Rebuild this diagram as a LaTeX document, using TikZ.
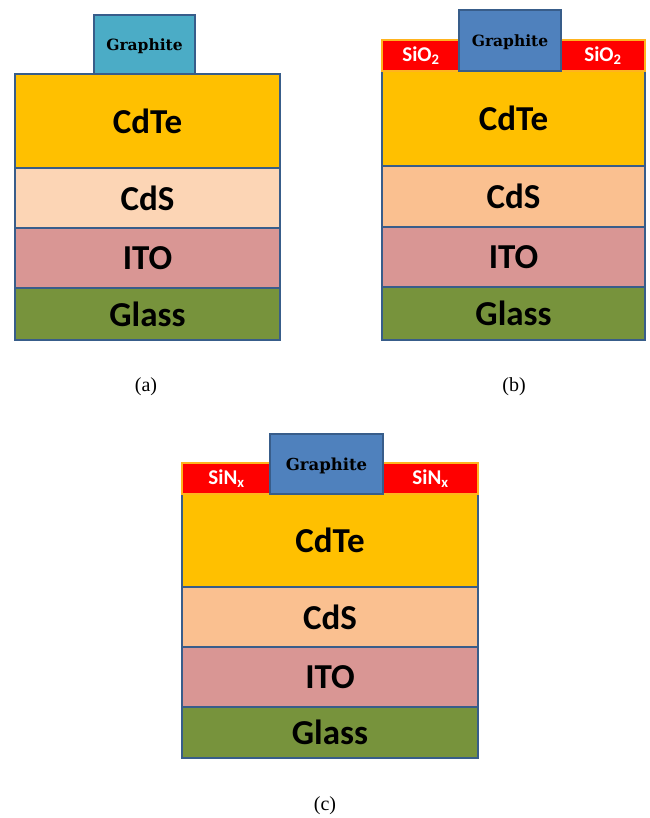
\documentclass[tikz,border=0pt]{standalone}
\usepackage{fontspec}
\setmainfont{Liberation Serif}
\newfontfamily\calfont{Carlito}
\newfontfamily\heavyfont{DejaVu Serif}
\usetikzlibrary{positioning}
\definecolor{edgeblue}{RGB}{56, 93, 138}
\definecolor{cdteyellow}{RGB}{255, 192, 0}
\definecolor{cdslight}{RGB}{252, 213, 181}
\definecolor{cdspeach}{RGB}{250, 192, 144}
\definecolor{itopink}{RGB}{217, 150, 148}
\definecolor{glassgreen}{RGB}{119, 147, 60}
\definecolor{graphteal}{RGB}{75, 172, 198}
\definecolor{graphblue}{RGB}{79, 129, 189}
\definecolor{oxred}{RGB}{255, 0, 0}
\definecolor{oxedge}{RGB}{255, 180, 30}

\begin{document}
\begin{tikzpicture}[x=1pt, y=-1pt,
  layer/.style={draw=edgeblue, line width=1.5pt, inner sep=0pt, outer sep=0pt,
                font=\calfont\bfseries\fontsize{35}{38}\selectfont},
  cdte/.style={layer, fill=cdteyellow, minimum height=94pt},
  cds/.style={layer, fill=cdspeach, minimum height=60pt},
  ito/.style={layer, fill=itopink, minimum height=60pt},
  glass/.style={layer, fill=glassgreen, minimum height=52pt},
  graph/.style={draw=edgeblue, line width=1.5pt, inner sep=0pt, outer sep=0pt,
                fill=graphblue, minimum height=60pt, text depth=0pt,
                font=\heavyfont\bfseries\fontsize{15.5}{17}\selectfont},
  oxide/.style={draw=oxedge, line width=1.5pt, fill=oxred, text=white,
                inner sep=0pt, outer sep=0pt, minimum height=31pt,
                font=\calfont\bfseries\fontsize{21}{23}\selectfont},
  caption/.style={font=\fontsize{20}{23}\selectfont}
]
  \useasboundingbox (0,0) rectangle (649,818);

  % (a) graphite on the bare stack
  \node[cdte, minimum width=265pt, anchor=north] (cdteA) at (147.5,74) {CdTe};
  \node[cds, fill=cdslight, minimum width=265pt, below=0pt of cdteA] (cdsA) {CdS};
  \node[ito, minimum width=265pt, below=0pt of cdsA] (itoA) {ITO};
  \node[glass, minimum width=265pt, below=0pt of itoA] (glassA) {Glass};
  \node[graph, fill=graphteal, minimum width=101pt, minimum height=59pt, anchor=south] (grA) at (144.5,74) {Graphite};
  \node[caption] (capA) at (146,387) {(a)};

  % (b) SiO2 beside the graphite
  \node[cdte, minimum width=263pt, minimum height=95pt, anchor=north] (cdteB) at (513.5,71) {CdTe};
  \node[cds, minimum width=263pt, minimum height=61pt, below=0pt of cdteB] (cdsB) {CdS};
  \node[ito, minimum width=263pt, below=0pt of cdsB] (itoB) {ITO};
  \node[glass, minimum width=263pt, minimum height=53pt, below=0pt of itoB] (glassB) {Glass};
  \node[oxide, minimum width=78pt, anchor=south] (oxLB) at (421,71) {SiO\textsubscript{2}};
  \node[oxide, minimum width=84pt, anchor=south] (oxRB) at (603,71) {SiO\textsubscript{2}};
  \node[graph, minimum width=102pt, minimum height=61pt, anchor=south] (grB) at (510,71) {Graphite};
  \node[caption] (capB) at (514,387) {(b)};

  % (c) SiNx beside the graphite
  \node[cdte, minimum width=296pt, minimum height=93pt, anchor=north] (cdteC) at (330,494) {CdTe};
  \node[cds, minimum width=296pt, below=0pt of cdteC] (cdsC) {CdS};
  \node[ito, minimum width=296pt, below=0pt of cdsC] (itoC) {ITO};
  \node[glass, minimum width=296pt, minimum height=51pt, below=0pt of itoC] (glassC) {Glass};
  \node[oxide, minimum width=89pt, anchor=south] (oxLC) at (226.5,494) {SiN\textsubscript{x}};
  \node[oxide, minimum width=95pt, anchor=south] (oxRC) at (430.5,494) {SiN\textsubscript{x}};
  \node[graph, minimum width=113pt, anchor=south, font=\heavyfont\bfseries\fontsize{16.5}{18}\selectfont] (grC) at (326.5,494) {Graphite};
  \node[caption] (capC) at (325,806) {(c)};
\end{tikzpicture}
\end{document}
